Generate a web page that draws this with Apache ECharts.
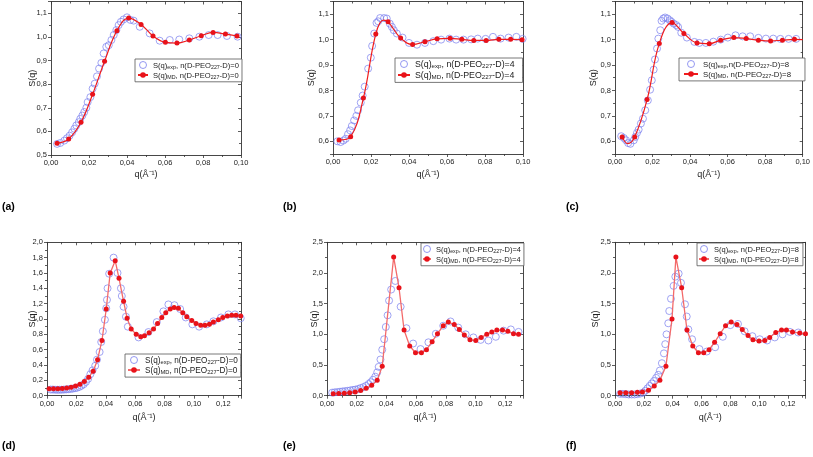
<!DOCTYPE html>
<html><head><meta charset="utf-8">
<script src="https://cdn.jsdelivr.net/npm/echarts/dist/echarts.min.js"></script>
<style>html,body{margin:0;padding:0;background:#fff}#c{width:813px;height:457px}</style>
</head><body><div id="c"></div>
<script>
// ---------------- DATA ----------------
const panelLetters = ['(a)','(b)','(c)','(d)','(e)','(f)'];
const nValues = ['0','4','8','0','4','8'];

const expA = [[0.0032,0.547],[0.0049,0.551],[0.0070,0.561],[0.0084,0.571],[0.0098,0.582],[0.0111,0.596],[0.0123,0.611],[0.0133,0.625],[0.0146,0.639],[0.0154,0.653],[0.0165,0.667],[0.0175,0.682],[0.0186,0.700],[0.0193,0.724],[0.0207,0.745],[0.0219,0.781],[0.0230,0.802],[0.0242,0.833],[0.0253,0.866],[0.0265,0.890],[0.0277,0.930],[0.0291,0.958],[0.0304,0.965],[0.0318,0.987],[0.0330,1.008],[0.0344,1.029],[0.0356,1.050],[0.0368,1.064],[0.0382,1.074],[0.0400,1.083],[0.0418,1.072],[0.0435,1.069],[0.0467,1.043],[0.0519,1.015],[0.0572,0.984],[0.0625,0.987],[0.0675,0.989],[0.0728,0.994],[0.0781,1.001],[0.0830,1.008],[0.0877,1.008],[0.0926,1.004],[0.0982,1.001]];
const mdA = [[0.0032,0.550],[0.0093,0.568],[0.0158,0.639],[0.0219,0.757],[0.0282,0.897],[0.0347,1.026],[0.0409,1.080],[0.0474,1.053],[0.0537,1.004],[0.0602,0.977],[0.0663,0.974],[0.0728,0.987],[0.0791,1.005],[0.0853,1.019],[0.0918,1.012],[0.0979,1.004]];
const mdAExtra = [];

const expB = [[0.0023,0.600],[0.0040,0.597],[0.0055,0.603],[0.0067,0.610],[0.0079,0.628],[0.0090,0.643],[0.0099,0.660],[0.0111,0.682],[0.0123,0.700],[0.0132,0.722],[0.0146,0.752],[0.0156,0.780],[0.0167,0.815],[0.0185,0.886],[0.0199,0.929],[0.0206,0.975],[0.0217,1.024],[0.0229,1.066],[0.0238,1.072],[0.0248,1.085],[0.0269,1.085],[0.0283,1.083],[0.0299,1.063],[0.0310,1.050],[0.0320,1.037],[0.0336,1.024],[0.0366,1.008],[0.0400,0.987],[0.0442,0.980],[0.0484,0.987],[0.0528,0.994],[0.0569,1.000],[0.0613,1.004],[0.0648,1.000],[0.0687,1.000],[0.0727,1.001],[0.0762,1.004],[0.0803,1.003],[0.0842,1.011],[0.0882,1.004],[0.0924,1.008],[0.0965,1.011],[0.0998,1.003]];
const mdB = [[0.0032,0.605],[0.0093,0.618],[0.0160,0.770],[0.0225,1.022],[0.0290,1.070],[0.0356,1.006],[0.0419,0.981],[0.0484,0.992],[0.0548,1.003],[0.0616,1.005],[0.0678,1.001],[0.0741,0.997],[0.0806,0.997],[0.0873,1.001],[0.0935,1.001],[0.0995,1.000]];
const mdBExtra = [[0.0266,1.077]];

const expC = [[0.0033,0.620],[0.0047,0.613],[0.0059,0.604],[0.0070,0.593],[0.0082,0.590],[0.0100,0.604],[0.0108,0.617],[0.0117,0.633],[0.0126,0.646],[0.0138,0.670],[0.0149,0.689],[0.0161,0.722],[0.0175,0.761],[0.0187,0.803],[0.0196,0.840],[0.0206,0.882],[0.0213,0.922],[0.0224,0.965],[0.0231,1.004],[0.0241,1.037],[0.0248,1.074],[0.0257,1.083],[0.0267,1.087],[0.0280,1.083],[0.0292,1.076],[0.0301,1.070],[0.0313,1.063],[0.0327,1.057],[0.0336,1.050],[0.0353,1.027],[0.0383,1.008],[0.0423,0.991],[0.0449,0.987],[0.0484,0.987],[0.0524,0.992],[0.0563,1.000],[0.0601,1.008],[0.0642,1.017],[0.0680,1.013],[0.0720,1.013],[0.0764,1.007],[0.0804,1.004],[0.0843,1.004],[0.0881,1.003],[0.0925,1.003],[0.0965,1.003]];
const mdC = [[0.0038,0.617],[0.0105,0.617],[0.0171,0.764],[0.0236,0.985],[0.0304,1.067],[0.0367,1.024],[0.0437,0.987],[0.0502,0.984],[0.0563,0.998],[0.0633,1.008],[0.0699,1.004],[0.0764,0.998],[0.0829,0.995],[0.0892,0.998],[0.0956,1.001]];
const mdCExtra = [[0.0068,0.591],[0.1000,1.000]];

const expD = [[0.0025,0.080],[0.0040,0.080],[0.0055,0.078],[0.0070,0.077],[0.0085,0.077],[0.0100,0.078],[0.0115,0.080],[0.0130,0.082],[0.0145,0.085],[0.0160,0.088],[0.0175,0.092],[0.0190,0.097],[0.0205,0.104],[0.0220,0.115],[0.0235,0.130],[0.0250,0.150],[0.0265,0.180],[0.0280,0.220],[0.0295,0.280],[0.0310,0.330],[0.0328,0.390],[0.0340,0.470],[0.0358,0.570],[0.0369,0.700],[0.0380,0.840],[0.0394,0.990],[0.0403,1.140],[0.0408,1.250],[0.0412,1.400],[0.0423,1.590],[0.0453,1.800],[0.0480,1.600],[0.0503,1.400],[0.0509,1.300],[0.0521,1.160],[0.0537,1.030],[0.0550,0.900],[0.0623,0.760],[0.0690,0.830],[0.0747,0.960],[0.0792,1.100],[0.0826,1.190],[0.0867,1.180],[0.0906,1.130],[0.0944,1.020],[0.0989,0.930],[0.1035,0.900],[0.1087,0.930],[0.1132,0.970],[0.1184,1.020],[0.1234,1.060],[0.1279,1.060],[0.1318,1.010]];
const mdD = [[0.0014,0.090],[0.0044,0.090],[0.0074,0.090],[0.0104,0.095],[0.0134,0.100],[0.0164,0.110],[0.0194,0.125],[0.0224,0.150],[0.0254,0.185],[0.0284,0.240],[0.0314,0.320],[0.0344,0.470],[0.0374,0.720],[0.0403,1.130],[0.0430,1.600],[0.0464,1.760],[0.0490,1.530],[0.0521,1.230],[0.0545,1.010],[0.0573,0.870],[0.0607,0.800],[0.0638,0.770],[0.0663,0.780],[0.0695,0.820],[0.0725,0.870],[0.0752,0.940],[0.0781,1.020],[0.0808,1.080],[0.0838,1.130],[0.0865,1.150],[0.0894,1.140],[0.0924,1.080],[0.0951,1.030],[0.0985,0.980],[0.1014,0.940],[0.1046,0.920],[0.1075,0.920],[0.1105,0.930],[0.1132,0.960],[0.1166,0.990],[0.1196,1.020],[0.1227,1.040],[0.1257,1.050],[0.1286,1.050],[0.1318,1.040]];
const mdDExtra = [];

const expE = [[0.0035,0.050],[0.0052,0.055],[0.0070,0.060],[0.0088,0.065],[0.0105,0.070],[0.0122,0.075],[0.0140,0.080],[0.0157,0.087],[0.0175,0.095],[0.0192,0.100],[0.0210,0.110],[0.0227,0.125],[0.0245,0.140],[0.0262,0.160],[0.0280,0.190],[0.0295,0.220],[0.0310,0.260],[0.0325,0.310],[0.0338,0.380],[0.0348,0.470],[0.0360,0.590],[0.0372,0.750],[0.0385,0.920],[0.0396,1.120],[0.0408,1.310],[0.0418,1.550],[0.0432,1.730],[0.0460,1.870],[0.0496,1.450],[0.0535,1.100],[0.0580,0.850],[0.0630,0.760],[0.0683,0.870],[0.0733,1.010],[0.0783,1.140],[0.0832,1.210],[0.0884,1.110],[0.0934,1.000],[0.0986,0.950],[0.1035,0.910],[0.1087,0.900],[0.1137,0.960],[0.1189,1.060],[0.1238,1.080],[0.1290,1.040]];
const mdE = [[0.0042,0.030],[0.0079,0.035],[0.0116,0.040],[0.0153,0.050],[0.0190,0.060],[0.0227,0.085],[0.0264,0.120],[0.0301,0.170],[0.0338,0.250],[0.0372,0.480],[0.0449,2.260],[0.0485,1.760],[0.0519,1.070],[0.0557,0.810],[0.0596,0.700],[0.0636,0.700],[0.0670,0.750],[0.0708,0.880],[0.0744,1.010],[0.0783,1.140],[0.0817,1.200],[0.0857,1.160],[0.0891,1.080],[0.0925,0.990],[0.0963,0.910],[0.1002,0.900],[0.1038,0.950],[0.1076,1.000],[0.1110,1.040],[0.1144,1.070],[0.1182,1.070],[0.1218,1.050],[0.1256,1.010],[0.1290,1.000]];
const mdEExtra = [];

const expF = [[0.0035,0.030],[0.0055,0.030],[0.0075,0.025],[0.0095,0.020],[0.0115,0.020],[0.0135,0.020],[0.0155,0.025],[0.0175,0.035],[0.0195,0.050],[0.0210,0.080],[0.0225,0.120],[0.0240,0.160],[0.0255,0.200],[0.0270,0.240],[0.0285,0.290],[0.0300,0.340],[0.0311,0.410],[0.0325,0.530],[0.0339,0.690],[0.0348,0.840],[0.0357,1.000],[0.0369,1.180],[0.0376,1.380],[0.0388,1.580],[0.0406,1.790],[0.0418,1.940],[0.0441,1.990],[0.0457,1.840],[0.0485,1.490],[0.0497,1.290],[0.0508,1.080],[0.0534,0.920],[0.0585,0.760],[0.0636,0.720],[0.0694,0.790],[0.0747,0.960],[0.0799,1.150],[0.0852,1.170],[0.0898,1.050],[0.0952,0.970],[0.1003,0.920],[0.1054,0.900],[0.1107,0.950],[0.1161,1.000],[0.1212,1.040],[0.1270,1.030],[0.1328,1.020]];
const mdF = [[0.0035,0.050],[0.0075,0.050],[0.0115,0.050],[0.0155,0.055],[0.0190,0.060],[0.0232,0.090],[0.0272,0.160],[0.0311,0.250],[0.0353,0.480],[0.0395,1.250],[0.0422,2.260],[0.0462,1.760],[0.0499,1.070],[0.0539,0.810],[0.0578,0.700],[0.0615,0.700],[0.0652,0.750],[0.0690,0.870],[0.0729,1.010],[0.0766,1.140],[0.0805,1.200],[0.0845,1.160],[0.0882,1.080],[0.0922,0.980],[0.0956,0.910],[0.0998,0.890],[0.1038,0.900],[0.1072,0.950],[0.1114,1.030],[0.1154,1.070],[0.1188,1.070],[0.1230,1.040],[0.1280,1.020],[0.1320,1.010]];
const mdFExtra = [];

const expData = [expA, expB, expC, expD, expE, expF];
const mdData = [mdA, mdB, mdC, mdD, mdE, mdF];
const mdExtra = [mdAExtra, mdBExtra, mdCExtra, mdDExtra, mdEExtra, mdFExtra];

const xRanges = [[0,0.10],[0,0.10],[0,0.10],[0,0.132],[0,0.132],[0,0.132]];
const yRanges = [[0.5,1.15],[0.55,1.15],[0.55,1.15],[0,2.0],[0,2.5],[0,2.5]];
const xSplits = [5,5,5,6,6,6];
const ySplits = [6,6,6,10,5,5];

// ---------------- LAYOUT ----------------
const L = [
 {grid:{left:51,top:1.5,width:190,height:153.5}, yGap:14, xGap:15, smooth:0.4, lg:{left:135,top:59,fs:7.6,iw:10,pad:[2,3,2,2]}, lab:[2,202]},
 {grid:{left:333,top:1.5,width:190,height:152.5}, yGap:17, xGap:16, smooth:0.4, lg:{left:395,top:58,fs:8.8,iw:12,pad:[2,8,2,2]}, lab:[283,202]},
 {grid:{left:615,top:1.5,width:190.5,height:152.5}, yGap:17, xGap:16, smooth:0.4, lg:{left:679,top:58,fs:7.8,iw:14,pad:[2,14,2,4]}, lab:[566,202]},
 {grid:{left:47,top:242.3,width:194,height:153.4}, yGap:10, xGap:17, smooth:false, lg:{left:125,top:354,fs:8.2,iw:12,pad:[2,3,2,2]}, lab:[2,441]},
 {grid:{left:327,top:242.3,width:196,height:153.4}, yGap:8, xGap:17, smooth:false, lg:{left:421,top:243,fs:7.5,iw:8,pad:[2,3,2,1]}, lab:[283,441]},
 {grid:{left:615,top:242.3,width:190.5,height:153.4}, yGap:15, xGap:17, smooth:false, lg:{left:697,top:243,fs:7.5,iw:10,pad:[2,4,2,1]}, lab:[566,441]}
];
const EXP_C = '#7b80ee';
const MD_C = '#e8121a';
const FONT = 'Liberation Sans, Arial, sans-serif';
const AX = '#333';

function onTick(v, iv){ return Math.abs(v/iv - Math.round(v/iv)) < 1e-6; }

const grids = [], xAxes = [], yAxes = [], series = [], legends = [], graphics = [];
const legendText = {};
L.forEach((p, i) => {
  grids.push(Object.assign({containLabel:false}, p.grid));
  const [x0,x1] = xRanges[i], [y0,y1] = yRanges[i];
  const xiv = 0.02, yiv = (i<3) ? 0.1 : (i===3 ? 0.2 : 0.5);
  const common = {type:'value', gridIndex:i, splitLine:{show:false}, nameMoveOverlap:false,
    axisLine:{show:true, onZero:false, lineStyle:{color:AX, width:0.9}},
    minorTick:{show:true, splitNumber:2, length:2, lineStyle:{color:AX, width:0.8}}};
  xAxes.push(Object.assign({}, common, {position:'bottom', min:x0, max:x1, splitNumber:xSplits[i],
    axisTick:{show:true, inside:false, length:3, lineStyle:{color:AX, width:0.8}},
    axisLabel:{fontSize:7.5, fontFamily:FONT, color:'#222', margin:4,
      showMaxLabel: onTick(x1, xiv), formatter:v=>v.toFixed(2).replace('.',',')},
    name:'q(Å⁻¹)', nameLocation:'middle', nameGap:p.xGap,
    nameTextStyle:{fontSize:9, fontFamily:FONT, color:'#222'}}));
  xAxes.push(Object.assign({}, common, {position:'top', min:x0, max:x1, splitNumber:xSplits[i],
    axisTick:{show:true, inside:true, length:3, lineStyle:{color:AX, width:0.8}},
    axisLabel:{show:false}}));
  yAxes.push(Object.assign({}, common, {position:'left', min:y0, max:y1, splitNumber:ySplits[i],
    axisTick:{show:true, inside:false, length:3, lineStyle:{color:AX, width:0.8}},
    axisLabel:{fontSize:7.5, fontFamily:FONT, color:'#222', margin:4,
      showMinLabel: onTick(y0, yiv), showMaxLabel: onTick(y1, yiv),
      formatter:v=>v.toFixed(1).replace('.',',')},
    name:'S(q)', nameLocation:'middle', nameGap:p.yGap,
    nameTextStyle:{fontSize:9, fontFamily:FONT, color:'#222'}}));
  yAxes.push(Object.assign({}, common, {position:'right', min:y0, max:y1, splitNumber:ySplits[i],
    axisTick:{show:true, inside:true, length:3, lineStyle:{color:AX, width:0.8}},
    axisLabel:{show:false}}));

  const expName = 'exp' + i, mdName = 'md' + i;
  const sep = (i===2) ? '{n|,n(D-PEO}' : '{n|, n(D-PEO}';
  legendText[expName] = '{n|S(q)}{s|exp}' + sep + '{s|227}{n|-D)=' + nValues[i] + '}';
  legendText[mdName] = '{n|S(q)}{s|MD}{n|, n(D-PEO}{s|227}{n|-D)=' + nValues[i] + '}';

  series.push({name:expName, type:'scatter', xAxisIndex:2*i, yAxisIndex:2*i, symbol:'circle', symbolSize:7,
    itemStyle:{color:'rgba(255,255,255,0)', borderColor:EXP_C, borderWidth:0.9}, z:2,
    data: expData[i]});
  const merged = mdData[i].map(d => ({value:d}))
    .concat(mdExtra[i].map(d => ({value:d, symbol:'none'})))
    .sort((a,b) => a.value[0]-b.value[0]);
  series.push({name:mdName, type:'line', xAxisIndex:2*i, yAxisIndex:2*i, symbol:'circle', symbolSize:5,
    showAllSymbol:true, smooth:p.smooth, z:3, clip:true,
    lineStyle:{color: i<3 ? '#f01c1c' : '#f36a6a', width: i<3 ? 1.2 : 1.3},
    itemStyle:{color:MD_C}, data: merged});

  const fs = p.lg.fs;
  legends.push({show:true, orient:'vertical', left:p.lg.left, top:p.lg.top,
    data:[{name:expName, icon:'circle', itemStyle:{color:'rgba(255,255,255,0)', borderColor:EXP_C, borderWidth:1}},
          {name:mdName}],
    itemWidth:p.lg.iw, itemHeight:7, itemGap:2, padding:p.lg.pad,
    borderColor:'#555', borderWidth:0.8, borderRadius:0, backgroundColor:'#fff', selectedMode:false,
    formatter: n => legendText[n],
    textStyle:{fontSize:fs, fontFamily:FONT, color:'#222',
      rich:{n:{fontSize:fs, fontFamily:FONT, color:'#222', lineHeight:fs+2, verticalAlign:'bottom'},
            s:{fontSize:fs*0.7, fontFamily:FONT, color:'#222', lineHeight:fs*0.5, verticalAlign:'bottom'}}}});

  graphics.push({type:'text', left:p.lab[0], top:p.lab[1],
    style:{text:panelLetters[i], font:'bold 10.5px ' + FONT, fill:'#000'}});
});

const chart = echarts.init(document.getElementById('c'), null, {renderer:'canvas'});
chart.setOption({
  animation:false, backgroundColor:'#fff',
  grid:grids, xAxis:xAxes, yAxis:yAxes, series:series, legend:legends, graphic:graphics
});
</script>
</body></html>
